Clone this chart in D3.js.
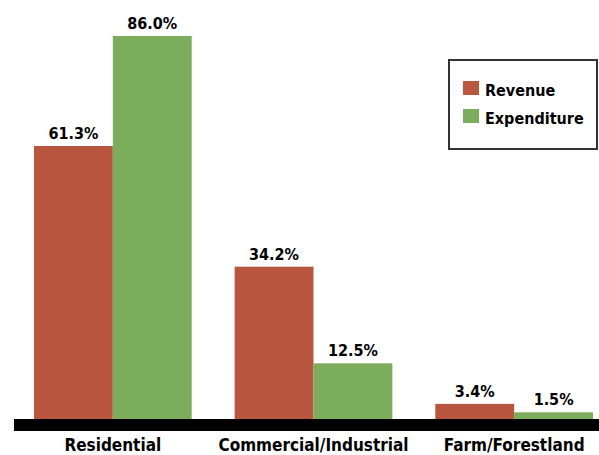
<!DOCTYPE html>
<html>
<head>
<meta charset="utf-8">
<script src="https://cdn.jsdelivr.net/npm/d3@7"></script>
<style>
  html, body { margin: 0; padding: 0; background: #fff; }
  svg { display: block; }
  text { font-family: "DejaVu Sans Condensed", "DejaVu Sans", sans-serif; font-stretch: condensed; font-weight: bold; fill: #000; }
</style>
</head>
<body>
<svg id="chart" width="599" height="455"></svg>
<script>
const categories = ["Residential", "Commercial/Industrial", "Farm/Forestland"];
const seriesNames = ["Revenue", "Expenditure"];
const revenue = [61.3, 34.2, 3.4];
const expenditure = [86.0, 12.5, 1.5];
const colors = ["#B85640", "#7CAD5D"];

const W = 599, H = 455;
const baseY = 419;

const svg = d3.select("#chart");

const x0 = d3.scaleBand()
  .domain(categories)
  .range([12.5, 614.5])
  .paddingInner(0.214)
  .paddingOuter(0.107);

const x1 = d3.scaleBand()
  .domain(seriesNames)
  .range([0, x0.bandwidth()])
  .padding(0);

const y = d3.scaleLinear()
  .domain([0, 86])
  .range([baseY, 36]);

const fmt = d => d.toFixed(1) + "%";

const data = categories.map((c, i) => ({
  cat: c,
  vals: [
    { s: seriesNames[0], v: revenue[i] },
    { s: seriesNames[1], v: expenditure[i] }
  ]
}));

const color = d3.scaleOrdinal().domain(seriesNames).range(colors);

function addText(sel, x, yy, str, size, anchor) {
  return sel.append("text")
    .attr("x", x).attr("y", yy)
    .attr("text-anchor", anchor || "middle")
    .style("font-size", size + "px")
    .text(str);
}

const groups = svg.append("g").selectAll("g")
  .data(data).join("g")
  .attr("transform", d => `translate(${x0(d.cat)},0)`);

groups.selectAll("rect")
  .data(d => d.vals).join("rect")
  .attr("x", d => x1(d.s))
  .attr("width", x1.bandwidth())
  .attr("y", d => y(d.v))
  .attr("height", d => baseY - y(d.v))
  .attr("fill", d => color(d.s));

groups.each(function(d) {
  const g = d3.select(this);
  d.vals.forEach(v => {
    addText(g, x1(v.s) + x1.bandwidth() / 2, y(v.v) - 7, fmt(v.v), 16);
  });
});

// baseline
svg.append("rect")
  .attr("x", 14).attr("y", baseY)
  .attr("width", W - 14).attr("height", 12)
  .attr("fill", "#000");

// category labels
categories.forEach(c => {
  addText(svg, x0(c) + x0.bandwidth() / 2, 451, c, 17);
});

// legend
const lg = svg.append("g");
lg.append("rect")
  .attr("x", 449).attr("y", 60)
  .attr("width", 148).attr("height", 89)
  .attr("fill", "#fff")
  .attr("stroke", "#333").attr("stroke-width", 2);

seriesNames.forEach((s, i) => {
  const yy = 81 + i * 28;
  lg.append("rect")
    .attr("x", 463).attr("y", yy)
    .attr("width", 16).attr("height", 14)
    .attr("fill", color(s));
  addText(lg, 485, yy + 14.5, s, 16, "start");
});
</script>
</body>
</html>
